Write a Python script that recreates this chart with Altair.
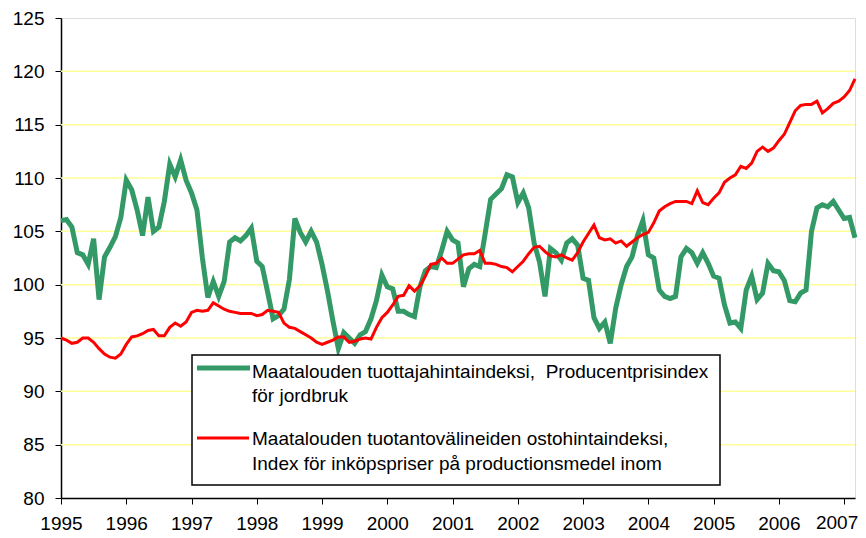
import altair as alt
import pandas as pd

# ---- data (monthly index values, Jan 1995 - Mar 2007) ----
YEARS = list(range(1995, 2008))
Y_TICKS = [80, 85, 90, 95, 100, 105, 110, 115, 120, 125]
GRID_VALUES = [85, 90, 95, 100, 105, 110, 115, 120]

green_1995 = [106.0, 106.1, 105.4, 103.0, 102.8, 101.9, 104.3, 98.6, 102.6, 103.5, 104.5, 106.3]
green_1996 = [109.8, 108.9, 107.0, 104.6, 108.2, 105.0, 105.4, 107.8, 111.3, 110.1, 111.7, 109.8]
green_1997 = [108.6, 107.0, 102.5, 98.8, 100.3, 98.9, 100.3, 104.0, 104.4, 104.1, 104.6, 105.3]
green_1998 = [102.2, 101.7, 99.3, 96.8, 97.1, 97.7, 100.5, 106.2, 104.9, 104.0, 105.0, 104.0]
green_1999 = [101.9, 99.4, 96.6, 94.0, 95.5, 95.0, 94.5, 95.3, 95.6, 96.8, 98.5, 100.9]
green_2000 = [99.8, 99.6, 97.5, 97.5, 97.2, 97.0, 99.8, 101.3, 101.7, 101.6, 103.2, 105.0]
green_2001 = [104.2, 103.9, 99.8, 101.5, 101.9, 101.7, 104.8, 108.0, 108.5, 109.0, 110.3, 110.1]
green_2002 = [107.7, 108.6, 107.2, 103.9, 102.1, 98.9, 103.4, 103.0, 102.3, 103.9, 104.3, 103.7]
green_2003 = [100.6, 100.4, 96.9, 95.9, 96.5, 94.5, 97.8, 100.0, 101.7, 102.6, 104.6, 106.0]
green_2004 = [102.8, 102.5, 99.5, 98.9, 98.7, 98.9, 102.6, 103.4, 103.0, 102.0, 103.0, 102.0]
green_2005 = [100.8, 100.6, 98.1, 96.4, 96.5, 95.9, 99.5, 100.8, 98.6, 99.2, 102.0, 101.3]
green_2006 = [101.2, 100.4, 98.5, 98.4, 99.2, 99.5, 105.0, 107.2, 107.5, 107.3, 107.8, 107.0]
green_2007 = [106.2, 106.3, 104.4]

red_1995 = [95.0, 94.8, 94.5, 94.6, 95.0, 95.0, 94.6, 94.0, 93.5, 93.2, 93.1, 93.5]
red_1996 = [94.4, 95.1, 95.2, 95.4, 95.7, 95.8, 95.2, 95.2, 96.0, 96.4, 96.1, 96.5]
red_1997 = [97.4, 97.6, 97.5, 97.6, 98.3, 98.0, 97.7, 97.5, 97.4, 97.3, 97.3, 97.3]
red_1998 = [97.1, 97.2, 97.6, 97.5, 97.4, 96.4, 96.0, 95.9, 95.6, 95.3, 95.0, 94.6]
red_1999 = [94.4, 94.6, 94.8, 95.1, 95.1, 94.6, 94.7, 94.9, 95.0, 94.9, 96.0, 96.9]
red_2000 = [97.4, 98.1, 98.9, 99.0, 99.9, 99.4, 99.9, 100.8, 101.9, 102.0, 102.5, 102.0]
red_2001 = [102.0, 102.4, 102.8, 102.9, 102.9, 103.2, 102.0, 102.0, 101.9, 101.7, 101.6, 101.2]
red_2002 = [101.7, 102.2, 102.9, 103.5, 103.6, 103.1, 102.7, 102.6, 102.8, 102.5, 102.3, 103.0]
red_2003 = [104.0, 104.8, 105.6, 104.4, 104.2, 104.3, 103.9, 104.1, 103.6, 104.0, 104.4, 104.7]
red_2004 = [104.9, 105.8, 106.9, 107.3, 107.6, 107.8, 107.8, 107.8, 107.6, 108.8, 107.7, 107.5]
red_2005 = [108.1, 108.6, 109.6, 110.0, 110.3, 111.1, 110.9, 111.4, 112.5, 112.9, 112.5, 112.8]
red_2006 = [113.5, 114.1, 115.2, 116.3, 116.8, 116.9, 116.9, 117.2, 116.1, 116.5, 117.0, 117.2]
red_2007 = [117.6, 118.2, 119.3]

GREEN_LABEL_1 = "Maatalouden tuottajahintaindeksi,\u00a0 Producentprisindex"
GREEN_LABEL_2 = "för jordbruk"
RED_LABEL_1 = "Maatalouden tuotantovälineiden ostohintaindeksi,"
RED_LABEL_2 = "Index för inköpspriser på productionsmedel inom"

green_by_year = [green_1995, green_1996, green_1997, green_1998, green_1999, green_2000,
                 green_2001, green_2002, green_2003, green_2004, green_2005, green_2006, green_2007]
red_by_year = [red_1995, red_1996, red_1997, red_1998, red_1999, red_2000,
               red_2001, red_2002, red_2003, red_2004, red_2005, red_2006, red_2007]


def to_frame(by_year):
    rows = []
    for year, vals in zip(YEARS, by_year):
        for m, v in enumerate(vals):
            rows.append({"t": year + m / 12.0, "v": v})
    return pd.DataFrame(rows)


green_df = to_frame(green_by_year)
red_df = to_frame(red_by_year)
grid_df = pd.DataFrame({"v": GRID_VALUES})
last_year_df = pd.DataFrame({"t": [YEARS[-1]], "lab": [str(YEARS[-1])]})
one = pd.DataFrame({"a": [0]})

FONT = "Liberation Sans"
FS = 19
X_END = 1995 + 146 / 12.0
LAST = YEARS[-1]

x_enc = alt.X(
    "t:Q",
    scale=alt.Scale(domain=[1995, X_END], nice=False, zero=False),
    axis=alt.Axis(values=YEARS, format="d", title=None, grid=False, labelFontSize=FS,
                  labelFont=FONT, labelColor="black", tickSize=6, tickColor="black",
                  domainColor="black", domainWidth=1.5, labelPadding=10,
                  labelOverlap=False, labelFlush=False,
                  labelExpr=f"datum.value == {LAST} ? '' : datum.label"),
)
y_scale = alt.Scale(domain=[80, 125], nice=False, zero=False)
y_axis = alt.Axis(values=Y_TICKS, title=None, grid=False, labelFontSize=FS, labelFont=FONT,
                  labelColor="black", tickSize=6, tickColor="black", domainColor="black",
                  domainWidth=1.5, labelPadding=11)
y_enc = alt.Y("v:Q", scale=y_scale, axis=y_axis)

grid = alt.Chart(grid_df).mark_rule(color="#FFFF99", strokeWidth=1.5).encode(y=y_enc)

green_line = alt.Chart(green_df).mark_line(color="#339966", strokeWidth=5).encode(x=x_enc, y=y_enc)
red_line = alt.Chart(red_df).mark_line(color="#FF0000", strokeWidth=3).encode(x=x_enc, y=y_enc)

# last year label, nudged left so it stays inside the page
last_label = alt.Chart(last_year_df).mark_text(
    align="center", baseline="top", fontSize=FS, font=FONT, color="black", dx=-7
).encode(x=x_enc, y=alt.value(496), text="lab:N")

legend_box = alt.Chart(one).mark_rect(fill="white", stroke="black", strokeWidth=1.5).encode(
    x=alt.value(131), x2=alt.value(659), y=alt.value(337), y2=alt.value(467)
)
green_sym = alt.Chart(one).mark_rule(color="#339966", strokeWidth=5).encode(
    x=alt.value(136), x2=alt.value(189), y=alt.value(350)
)
red_sym = alt.Chart(one).mark_rule(color="#FF0000", strokeWidth=3).encode(
    x=alt.value(136), x2=alt.value(188), y=alt.value(420)
)


def label(text, ypix):
    return alt.Chart(one).mark_text(align="left", baseline="middle", fontSize=FS, font=FONT,
                                    color="black").encode(
        x=alt.value(191), y=alt.value(ypix), text=alt.value(text)
    )


chart = alt.layer(
    grid, green_line, red_line, last_label, legend_box, green_sym, red_sym,
    label(GREEN_LABEL_1, 354), label(GREEN_LABEL_2, 378),
    label(RED_LABEL_1, 421), label(RED_LABEL_2, 446),
).properties(
    width=794, height=480,
    padding={"left": 53, "top": 10, "right": 3, "bottom": 36},
    autosize=alt.AutoSizeParams(type="none"),
).configure_view(stroke="#808080", strokeWidth=1.5).configure(background="white")

chart.save("out.html", embed_options={"renderer": "svg", "actions": False})
